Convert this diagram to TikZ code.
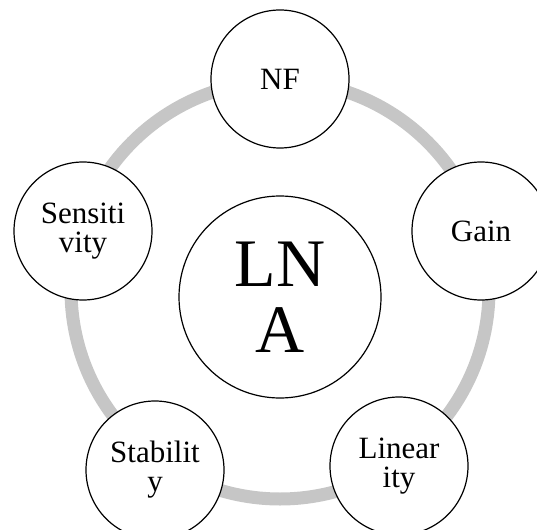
\documentclass[tikz,border=0pt]{standalone}
\usepackage{fontspec}
\setmainfont{Liberation Serif}
\usepackage{xcolor}

\begin{document}
\begin{tikzpicture}[x=1pt, y=-1pt, line width=1.2pt]
    \tikzstyle{param}=[circle, draw, fill=white, minimum size=138pt, inner sep=0pt, align=center, font=\fontsize{31}{29}\selectfont]
    \tikzstyle{core}=[circle, draw, fill=white, minimum size=202pt, inner sep=0pt, align=center, font=\fontsize{68}{66}\selectfont]
    \useasboundingbox (0,0) rectangle (537,529);
    \clip (0,0) rectangle (537,529);

    \coordinate (O) at (280,290);
    \draw[line width=13pt, gray!45] (O) circle (209);

    \node[core]  (LNA)  at (280,297) {LN\\A};
    \node[param] (NF)   at (280,79)  {NF};
    \node[param] (Gain) at (481,231) {Gain};
    \node[param] (Lin)  at (399,466) {Linear\\ity};
    \node[param] (Stab) at (155,470) {Stabilit\\y};
    \node[param] (Sens) at (83,231)  {Sensiti\\vity};
\end{tikzpicture}
\end{document}
